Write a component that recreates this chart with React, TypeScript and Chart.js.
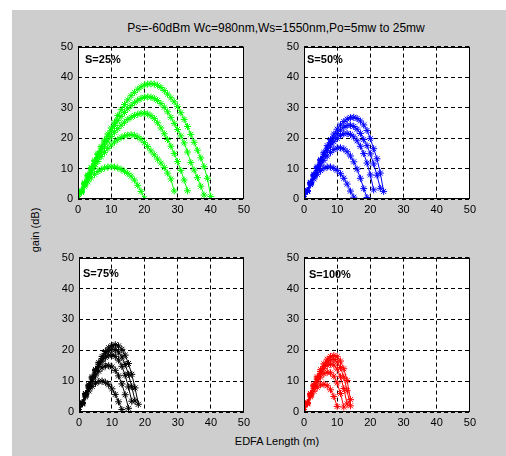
import React, { useEffect, useRef } from "react";
import { Chart, registerables } from "chart.js";

Chart.register(...registerables);

// ---------- data (gain in dB at fiber lengths 0,1,2,... m) ----------
const lengthTicks = [0, 10, 20, 30, 40, 50];
const gainTicks = [0, 10, 20, 30, 40, 50];
const pumpPowers = ["5mw", "10mw", "15mw", "20mw", "25mw"];
const panelLabels = ["S=25%", "S=50%", "S=75%", "S=100%"];

const s25P5 = [0, 2.1, 4.0, 5.6, 7.0, 8.1, 9.0, 9.7, 10.2, 10.5, 10.6, 10.5, 10.2, 9.7, 9.1, 8.4, 7.5, 6.2, 4.5, 2.5, 0.2];
const s25P10 = [0, 2.4, 4.7, 6.8, 8.8, 10.6, 12.3, 13.9, 15.3, 16.6, 17.7, 18.7, 19.5, 20.2, 20.7, 21.0, 21.1, 20.9, 20.4, 19.6, 18.5, 17.2, 15.8, 14.5, 13.1, 11.8, 10.3, 8.5, 6.6, 2.6];
const s25P15 = [0, 2.5, 5.0, 7.3, 9.5, 11.6, 13.6, 15.5, 17.3, 19.0, 20.5, 21.9, 23.1, 24.2, 25.2, 26.1, 26.8, 27.4, 27.8, 28.1, 28.1, 27.9, 27.3, 26.4, 25.0, 23.3, 21.4, 19.5, 17.3, 14.9, 12.3, 9.4, 6.2, 2.7];
const s25P20 = [0, 2.6, 5.2, 7.7, 10.1, 12.4, 14.6, 16.7, 18.7, 20.6, 22.4, 24.1, 25.7, 27.1, 28.4, 29.6, 30.7, 31.6, 32.4, 33.0, 33.4, 33.5, 33.4, 33.0, 32.3, 31.3, 30.1, 28.6, 26.8, 24.8, 22.8, 20.7, 18.4, 15.4, 12.0, 9.5, 7.0, 4.2, 1.3];
const s25P25 = [0, 2.7, 5.3, 7.9, 10.3, 12.7, 15.0, 17.2, 19.3, 21.3, 23.3, 25.2, 27.4, 29.3, 31.0, 32.5, 33.9, 35.0, 36.0, 36.8, 37.4, 37.7, 37.8, 37.7, 37.3, 36.6, 35.6, 34.4, 33.2, 31.9, 30.3, 28.3, 26.1, 23.8, 21.2, 18.6, 16.0, 13.5, 10.6, 6.8, 0.8];

const s50P5 = [0, 2.5, 4.7, 6.6, 8.1, 9.3, 10.1, 10.5, 10.5, 10.1, 9.4, 8.3, 6.8, 4.9, 2.6, 0.6];
const s50P10 = [0, 2.6, 5.1, 7.3, 9.3, 11.1, 12.7, 14.1, 15.3, 16.2, 16.7, 16.8, 16.4, 15.5, 14.1, 12.2, 9.8, 6.8, 3.4, 0.5];
const s50P15 = [0, 2.7, 5.3, 7.7, 10.0, 12.1, 14.0, 15.8, 17.4, 18.8, 19.9, 20.8, 21.4, 21.5, 21.2, 20.4, 19.1, 17.3, 14.9, 11.8, 7.9, 3.0];
const s50P20 = [0, 2.7, 5.4, 7.9, 10.3, 12.6, 14.7, 16.7, 18.5, 20.1, 21.5, 22.6, 23.5, 24.1, 24.2, 23.8, 22.9, 21.5, 19.5, 17.5, 14.8, 11.5, 7.8, 3.5];
const s50P25 = [0, 2.8, 5.5, 8.1, 10.6, 13.0, 15.3, 17.5, 19.5, 21.3, 22.9, 24.3, 25.4, 26.2, 26.7, 26.8, 26.4, 25.6, 24.3, 22.5, 19.8, 16.5, 13.2, 8.5, 2.5];

const s75P5 = [0, 2.6, 4.9, 6.8, 8.3, 9.3, 9.9, 10.0, 9.6, 8.8, 7.5, 5.7, 3.3, 0.8];
const s75P10 = [0, 2.8, 5.4, 7.8, 9.9, 11.7, 13.2, 14.3, 14.9, 15.0, 14.6, 13.5, 11.7, 9.1, 5.6, 1.2];
const s75P15 = [0, 2.9, 5.7, 8.3, 10.7, 12.9, 14.8, 16.4, 17.6, 18.3, 18.5, 18.0, 16.8, 14.8, 11.9, 8.1, 3.5];
const s75P20 = [0, 3.0, 5.9, 8.6, 11.1, 13.4, 15.5, 17.3, 18.8, 19.8, 20.3, 20.2, 19.4, 17.8, 15.4, 12.2, 8.2, 3.6];
const s75P25 = [0, 3.0, 6.0, 8.8, 11.4, 13.8, 16.0, 18.0, 19.6, 20.8, 21.5, 21.8, 21.4, 20.3, 18.4, 15.7, 12.2, 7.8, 2.5];

const s100P5 = [0, 2.6, 4.9, 6.7, 8.0, 8.8, 9.0, 8.5, 7.2, 5.0, 1.8];
const s100P10 = [0, 2.8, 5.4, 7.7, 9.7, 11.3, 12.4, 12.9, 12.7, 11.6, 9.4, 6.0, 1.6];
const s100P15 = [0, 2.9, 5.7, 8.3, 10.6, 12.5, 14.0, 15.1, 15.5, 15.2, 13.9, 11.4, 7.6, 2.6];
const s100P20 = [0, 3.0, 5.9, 8.6, 11.0, 13.1, 14.8, 16.1, 16.9, 17.0, 16.2, 14.4, 11.3, 6.9, 2.0];
const s100P25 = [0, 3.0, 6.0, 8.8, 11.4, 13.7, 15.6, 17.1, 18.0, 18.3, 17.9, 16.5, 14.0, 10.2, 4.0];

// ---------- layout / style ----------
const FONT = "'Liberation Sans', Arial, Helvetica, sans-serif";
const AX_W = 30;
const AX_H = 20;
const PAD_T = 10;
const PAD_R = 10;

const panels = [
  { label: panelLabels[0], color: "#00ff00", series: [s25P5, s25P10, s25P15, s25P20, s25P25], left: 78, top: 45, w: 166, h: 154, lx: 7, ly: 13 },
  { label: panelLabels[1], color: "#0000ff", series: [s50P5, s50P10, s50P15, s50P20, s50P25], left: 304, top: 45, w: 166, h: 154, lx: 3, ly: 13 },
  { label: panelLabels[2], color: "#000000", series: [s75P5, s75P10, s75P15, s75P20, s75P25], left: 79, top: 256, w: 165, h: 156, lx: 4, ly: 16 },
  { label: panelLabels[3], color: "#ff0000", series: [s100P5, s100P10, s100P15, s100P20, s100P25], left: 304, top: 256, w: 166, h: 156, lx: 5, ly: 17 },
];

type PanelCfg = (typeof panels)[number];

function Panel({ cfg }: { cfg: PanelCfg }) {
  const ref = useRef<HTMLCanvasElement | null>(null);
  useEffect(() => {
    const boxPlugin = {
      id: "box",
      beforeDraw(chart: any) {
        const { ctx, chartArea } = chart;
        ctx.save();
        ctx.fillStyle = "#ffffff";
        ctx.fillRect(chartArea.left, chartArea.top, chartArea.right - chartArea.left, chartArea.bottom - chartArea.top);
        ctx.restore();
      },
      afterDraw(chart: any) {
        const { ctx, chartArea } = chart;
        ctx.save();
        ctx.strokeStyle = "#000000";
        ctx.lineWidth = 1;
        ctx.setLineDash([]);
        ctx.strokeRect(
          Math.round(chartArea.left) + 0.5,
          Math.round(chartArea.top) + 0.5,
          Math.round(chartArea.right - chartArea.left) - 1,
          Math.round(chartArea.bottom - chartArea.top) - 1
        );
        ctx.fillStyle = "#000000";
        ctx.font = `bold 11px ${FONT}`;
        ctx.textBaseline = "middle";
        ctx.textAlign = "left";
        ctx.fillText(cfg.label, chartArea.left + cfg.lx, chartArea.top + cfg.ly);
        ctx.restore();
      },
    };

    const tickFont = { size: 11, family: FONT };
    const chart = new Chart(ref.current as HTMLCanvasElement, {
      type: "scatter",
      data: {
        datasets: cfg.series.map((gains, i) => ({
          label: pumpPowers[i],
          data: gains.map((g, x) => ({ x, y: g })),
          showLine: true,
          borderColor: cfg.color,
          backgroundColor: cfg.color,
          borderWidth: 1,
          pointStyle: "star",
          pointRadius: 3.5,
          pointBorderWidth: 1,
          pointBorderColor: cfg.color,
          tension: 0,
        })),
      },
      options: {
        responsive: false,
        animation: false,
        devicePixelRatio: 1,
        layout: { padding: { top: PAD_T, right: PAD_R, left: 0, bottom: 0 } },
        plugins: { legend: { display: false }, tooltip: { enabled: false }, title: { display: false } },
        scales: {
          x: {
            type: "linear",
            min: lengthTicks[0],
            max: lengthTicks[lengthTicks.length - 1],
            afterFit: (s: any) => {
              s.height = AX_H;
            },
            afterBuildTicks: (s: any) => {
              s.ticks = lengthTicks.map((v) => ({ value: v }));
            },
            ticks: { color: "#000", font: tickFont, padding: 4, maxRotation: 0, autoSkip: false },
            grid: { color: "#000", lineWidth: 1, drawTicks: false },
            border: { display: false, dash: [4, 3] },
          },
          y: {
            type: "linear",
            min: gainTicks[0],
            max: gainTicks[gainTicks.length - 1],
            afterFit: (s: any) => {
              s.width = AX_W;
            },
            afterBuildTicks: (s: any) => {
              s.ticks = gainTicks.map((v) => ({ value: v }));
            },
            ticks: { color: "#000", font: tickFont, padding: 5, autoSkip: false },
            grid: { color: "#000", lineWidth: 1, drawTicks: false },
            border: { display: false, dash: [4, 3] },
          },
        },
      } as any,
      plugins: [boxPlugin],
    });
    return () => chart.destroy();
  }, [cfg]);

  return (
    <canvas
      ref={ref}
      width={AX_W + cfg.w + PAD_R}
      height={PAD_T + cfg.h + AX_H}
      style={{ position: "absolute", left: cfg.left - AX_W, top: cfg.top - PAD_T }}
    />
  );
}

export default function App() {
  return (
    <div style={{ position: "absolute", left: 0, top: 0, width: 506, height: 456, background: "#ffffff", overflow: "hidden" }}>
      <div style={{ position: "absolute", left: 12, top: 10, width: 494, height: 446, background: "#cecece" }} />
      <div
        style={{
          position: "absolute",
          left: 76,
          top: 21,
          width: 400,
          textAlign: "center",
          fontFamily: FONT,
          fontSize: 12,
          color: "#000",
          whiteSpace: "nowrap",
        }}
      >
        Ps=-60dBm Wc=980nm,Ws=1550nm,Po=5mw to 25mw
      </div>
      <div
        style={{
          position: "absolute",
          left: 35,
          top: 230,
          transform: "translate(-50%, -50%) rotate(-90deg)",
          fontFamily: FONT,
          fontSize: 11,
          color: "#000",
          whiteSpace: "nowrap",
        }}
      >
        gain (dB)
      </div>
      <div
        style={{
          position: "absolute",
          left: 177,
          top: 435,
          width: 200,
          textAlign: "center",
          fontFamily: FONT,
          fontSize: 11,
          color: "#000",
          whiteSpace: "nowrap",
        }}
      >
        EDFA Length (m)
      </div>
      {panels.map((p) => (
        <Panel key={p.label} cfg={p} />
      ))}
    </div>
  );
}
